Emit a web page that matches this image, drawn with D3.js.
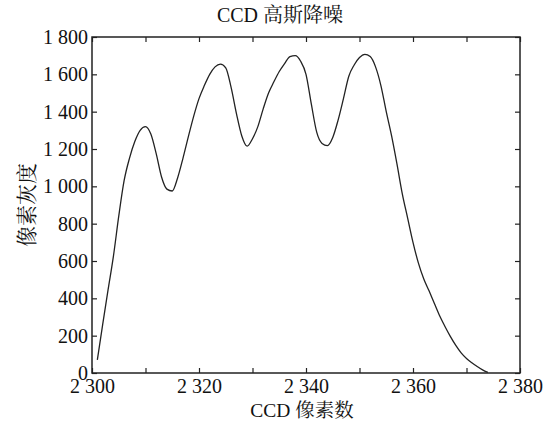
<!DOCTYPE html>
<html><head><meta charset="utf-8">
<script src="https://cdn.jsdelivr.net/npm/d3@7"></script>
<style>
html,body{margin:0;padding:0;background:#fff;}
</style></head>
<body><svg id="c" width="543" height="422"></svg>
<script>
const pixelIndex = [2301,2302,2303,2304,2305,2306,2307,2308,2309,2310,2311,2312,2313,2314,2315,2316,2317,2318,2319,2320,2321,2322,2323,2324,2325,2326,2327,2328,2329,2330,2331,2332,2333,2334,2335,2336,2337,2338,2339,2340,2341,2342,2343,2344,2345,2346,2347,2348,2349,2350,2351,2352,2353,2354,2355,2356,2357,2358,2359,2360,2361,2362,2363,2364,2365,2366,2367,2368,2369,2370,2371,2372,2373,2374];
const grayValue = [70,260,445,625,840,1030,1150,1240,1300,1320,1280,1175,1050,985,975,1045,1150,1265,1375,1470,1540,1600,1640,1655,1635,1530,1390,1270,1215,1255,1320,1415,1500,1560,1615,1658,1695,1700,1670,1600,1440,1290,1230,1218,1262,1355,1470,1590,1650,1690,1707,1695,1640,1540,1400,1270,1120,960,830,700,590,505,440,372,305,248,195,148,108,78,55,35,17,3];
const xTickLabels = [2300,2320,2340,2360,2380];
const xMinorTicks = [2310,2330,2350,2370];
const yTickLabels = [0,200,400,600,800,1000,1200,1400,1600,1800];
const titleParts = ["CCD ", "高斯降噪"];
const xLabelParts = ["CCD ", "像素数"];
const yLabelText = "像素灰度";

const LATIN = "Liberation Serif";
const CJK = "Noto Serif CJK SC";
const W=543,H=422,m={l:92,r:23,t:37,b:49};
const svg=d3.select("#c");
const x=d3.scaleLinear().domain([2300,2380]).range([m.l,W-m.r]);
const y=d3.scaleLinear().domain([0,1800]).range([H-m.b,m.t]);
const fmt=v=>{const s=String(v);return s.length>3?s.slice(0,s.length-3)+" "+s.slice(-3):s;};

const allX=xTickLabels.concat(xMinorTicks).sort((a,b)=>a-b);
const tl=5;
const gb=svg.append("g").attr("transform",`translate(0,${H-m.b})`)
 .call(d3.axisBottom(x).tickValues(allX).tickSizeInner(-tl).tickSizeOuter(0).tickPadding(8)
 .tickFormat(v=>xTickLabels.includes(v)?fmt(v):""));
const gt=svg.append("g").attr("transform",`translate(0,${m.t})`)
 .call(d3.axisTop(x).tickValues(allX).tickSizeInner(-tl).tickSizeOuter(0).tickFormat(""));
const gl=svg.append("g").attr("transform",`translate(${m.l},0)`)
 .call(d3.axisLeft(y).tickValues(yTickLabels).tickSizeInner(-tl).tickSizeOuter(0).tickPadding(4).tickFormat(fmt));
const gr=svg.append("g").attr("transform",`translate(${W-m.r},0)`)
 .call(d3.axisRight(y).tickValues(yTickLabels).tickSizeInner(-tl).tickSizeOuter(0).tickFormat(""));
[gb,gt,gl,gr].forEach(g=>{
  g.attr("font-family",LATIN).attr("font-size",20);
  g.selectAll(".domain").remove();
  g.selectAll(".tick line").attr("stroke","#222").attr("stroke-width",1.2);
  g.selectAll("text").attr("font-family",LATIN).attr("fill","#111");
});
gb.selectAll("text").attr("dy","0.6em");
svg.append("rect").attr("x",m.l).attr("y",m.t).attr("width",W-m.l-m.r).attr("height",H-m.t-m.b)
 .attr("fill","none").attr("stroke","#222").attr("stroke-width",1.5);

const data=pixelIndex.map((p,i)=>({p,v:grayValue[i]}));
svg.append("path").datum(data)
 .attr("fill","none").attr("stroke","#222").attr("stroke-width",1.3)
 .attr("d",d3.line().x(d=>x(d.p)).y(d=>y(d.v)).curve(d3.curveMonotoneX));

function mixed(sel,parts,size){
  sel.attr("font-size",size).attr("fill","#111").attr("text-anchor","middle").attr("font-family",LATIN);
  sel.append("tspan").attr("font-family",LATIN).text(parts[0]);
  sel.append("tspan").attr("font-family",CJK).text(parts[1]);
}
mixed(svg.append("text").attr("x",280).attr("y",22),titleParts,20);
mixed(svg.append("text").attr("x",302).attr("y",417),xLabelParts,19.5);
svg.append("text").attr("transform",`translate(34,205) rotate(-90)`).attr("font-family",CJK)
 .attr("font-size",21).attr("fill","#111").attr("text-anchor","middle").text(yLabelText);
</script></body></html>
